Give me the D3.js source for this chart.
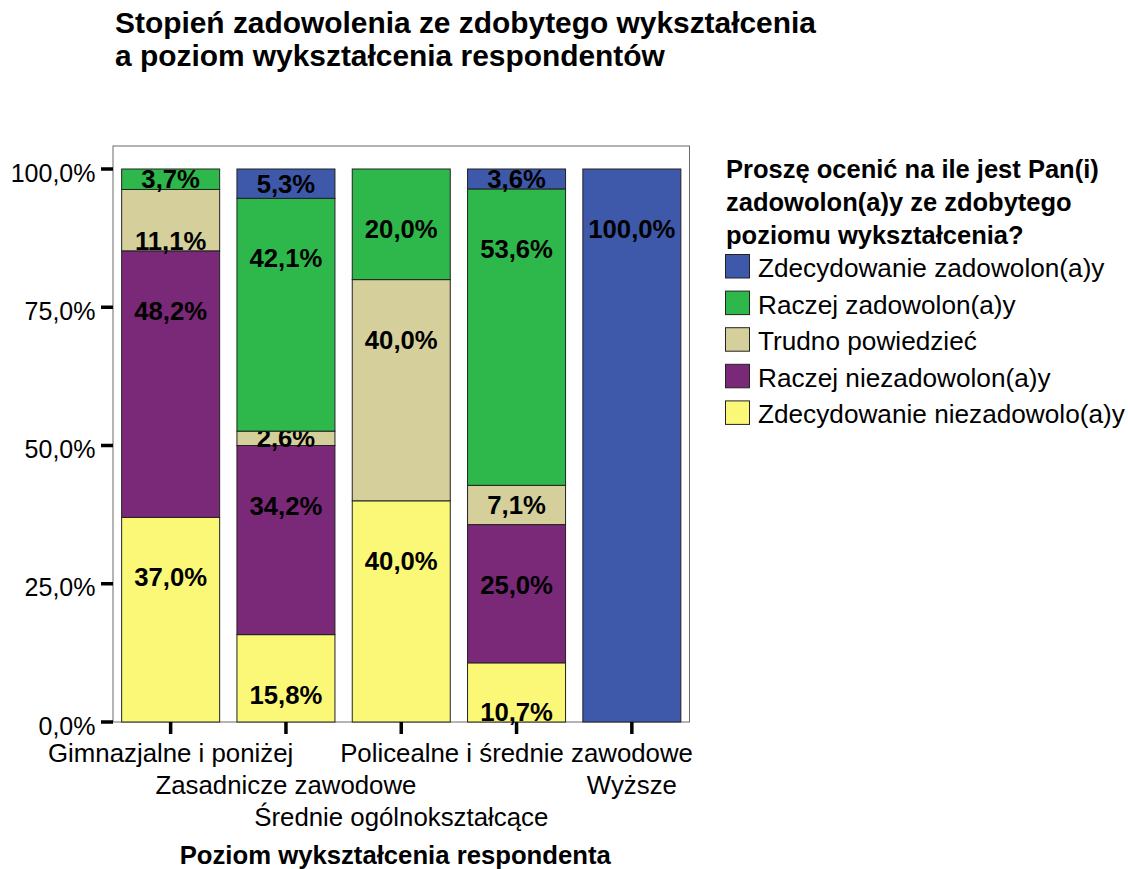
<!DOCTYPE html>
<html>
<head>
<meta charset="utf-8">
<script src="https://cdn.jsdelivr.net/npm/d3@7"></script>
<style>
  body { margin: 0; background: #fff; }
  svg text { font-family: "Liberation Sans", Arial, sans-serif; fill: #000; }
</style>
</head>
<body>
<svg id="chart" width="1128" height="869"></svg>
<script>
(function(){

  const titleLines = ['Stopień zadowolenia ze zdobytego wykształcenia',
                      'a poziom wykształcenia respondentów']

  const categories = ['Gimnazjalne i poniżej', 'Zasadnicze zawodowe',
    'Średnie ogólnokształcące', 'Policealne i średnie zawodowe', 'Wyższe']

  // legend order (top of stack first)
  const seriesNames = ['Zdecydowanie zadowolon(a)y', 'Raczej zadowolon(a)y',
    'Trudno powiedzieć', 'Raczej niezadowolon(a)y', 'Zdecydowanie niezadowolo(a)y']
  const seriesColors = ['#3e59aa', '#2eb84b', '#d4cf9b', '#7a2878', '#fbf878']

  const zdecZad    = [0, 5.3, 0, 3.6, 100]
  const raczejZad  = [3.7, 42.1, 20.0, 53.6, 0]
  const trudno     = [11.1, 2.6, 40.0, 7.1, 0]
  const raczejNie  = [48.2, 34.2, 0, 25.0, 0]
  const zdecNie    = [37.0, 15.8, 40.0, 10.7, 0]
  const seriesValues = [zdecZad, raczejZad, trudno, raczejNie, zdecNie]

  const yTicks = [0, 25, 50, 75, 100]

  const legendTitle = ['Proszę ocenić na ile jest Pan(i)',
                       'zadowolon(a)y ze zdobytego',
                       'poziomu wykształcenia?']
  const xTitle = 'Poziom wykształcenia respondenta'

  const svg = d3.select('#chart')
  const pct = v => d3.format('.1f')(v).replace('.', ',') + '%'

  const frame = {left: 113, right: 689.5, top: 146, bottom: 722}

  const x = d3.scaleBand().domain(categories)
              .range([frame.left, frame.right])
              .paddingInner(0.15).paddingOuter(0.075)
  const y = d3.scaleLinear().domain([0, 100]).range([722, 169])

  // title
  svg.append('g').selectAll('text').data(titleLines).enter()
    .append('text')
      .attr('x', 115).attr('y', (d, i) => 33 + i*32.5)
      .attr('font-size', '29.9px').attr('font-weight', 'bold')
      .text(d => d)

  // plot frame
  svg.append('rect')
    .attr('x', frame.left).attr('y', frame.top)
    .attr('width', frame.right - frame.left).attr('height', frame.bottom - frame.top)
    .attr('fill', 'none').attr('stroke', '#6a6a6a').attr('stroke-width', 1)

  // stacked bars
  const rows = categories.map((c, i) => {
    const r = {cat: c}
    seriesNames.forEach((s, k) => { r[s] = seriesValues[k][i] })
    return r
  })
  const stacked = d3.stack().keys(seriesNames.slice().reverse())(rows)
  const color = d3.scaleOrdinal().domain(seriesNames).range(seriesColors)

  const layers = svg.append('g').selectAll('g').data(stacked).enter()
    .append('g').attr('fill', d => color(d.key))

  const segs = layers.selectAll('g').data(d => d.filter(p => p[1] - p[0] > 0)).enter()
    .append('g')

  segs.append('rect')
      .attr('x', d => x(d.data.cat)).attr('width', x.bandwidth())
      .attr('y', d => y(d[1])).attr('height', d => y(d[0]) - y(d[1]))
      .attr('stroke', '#222').attr('stroke-width', 1)

  segs.append('text')
      .attr('text-anchor', 'middle')
      .attr('font-size', '25.7px').attr('font-weight', 'bold')
      .attr('x', d => x(d.data.cat) + x.bandwidth()/2)
      .attr('y', d => {
        const top = y(d[1]), bottom = y(d[0])
        const c = (bottom - top) < 50 ? (top + bottom)/2 : Math.min(top + 60, bottom - 10)
        return c + 9
      })
      .text(d => pct(d[1] - d[0]))

  // y axis ticks + labels
  const yAxis = svg.append('g')
  yAxis.selectAll('line').data(yTicks).enter().append('line')
      .attr('x1', 101).attr('x2', frame.left)
      .attr('y1', d => y(d)).attr('y2', d => y(d))
      .attr('stroke', '#000').attr('stroke-width', 3.5)
  yAxis.selectAll('text').data(yTicks).enter().append('text')
      .attr('x', 95.5).attr('y', d => y(d) + 12.5)
      .attr('text-anchor', 'end').attr('font-size', '25px')
      .text(d => pct(d))

  // x axis ticks + staggered labels
  const xAxis = svg.append('g')
  xAxis.selectAll('line').data(categories).enter().append('line')
      .attr('x1', d => x(d) + x.bandwidth()/2).attr('x2', d => x(d) + x.bandwidth()/2)
      .attr('y1', frame.bottom).attr('y2', 734)
      .attr('stroke', '#000').attr('stroke-width', 3.5)
  xAxis.selectAll('text').data(categories).enter().append('text')
      .attr('x', d => x(d) + x.bandwidth()/2)
      .attr('y', (d, i) => 762 + (i % 3)*32)
      .attr('text-anchor', 'middle').attr('font-size', '25.8px')
      .text(d => d)

  svg.append('text')
      .attr('x', (frame.left + frame.right)/2 - 6).attr('y', 864)
      .attr('text-anchor', 'middle').attr('font-size', '25.7px').attr('font-weight', 'bold')
      .text(xTitle)

  // legend
  const legend = svg.append('g')
  legend.selectAll('text.lt').data(legendTitle).enter().append('text')
      .attr('class', 'lt')
      .attr('x', 726).attr('y', (d, i) => 178 + i*33)
      .attr('font-size', '25.5px').attr('font-weight', 'bold')
      .text(d => d)

  const items = legend.selectAll('g').data(seriesNames).enter().append('g')
  items.append('rect')
      .attr('x', 725.5).attr('y', (d, i) => 254.5 + i*36.6)
      .attr('width', 24).attr('height', 23.5)
      .attr('fill', d => color(d)).attr('stroke', '#222').attr('stroke-width', 1)
  items.append('text')
      .attr('x', 758).attr('y', (d, i) => 277 + i*36.6)
      .attr('font-size', '26.2px')
      .text(d => d)

})()
</script>
</body>
</html>
